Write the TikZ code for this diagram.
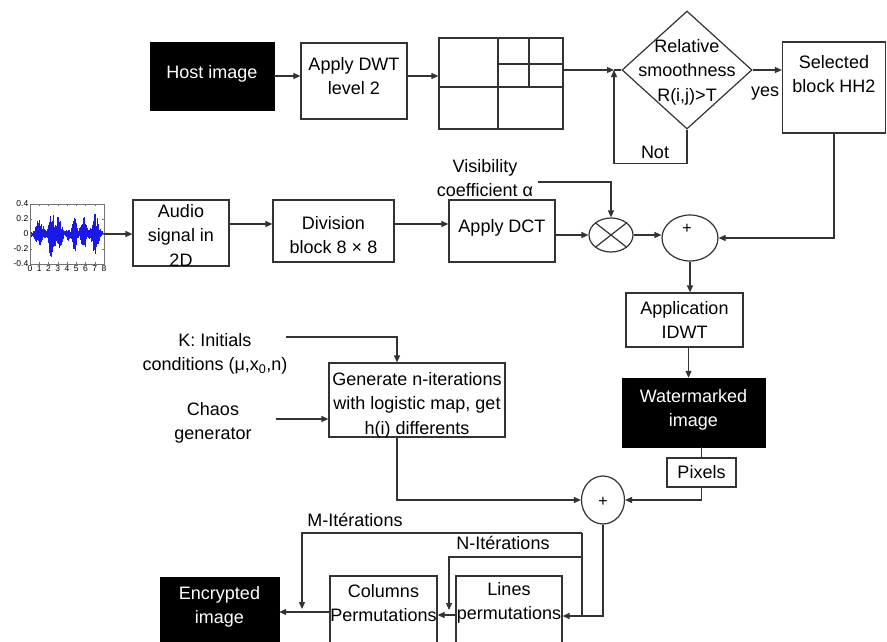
\documentclass[tikz,border=0pt]{standalone}
\usepackage{fontspec}
\setmainfont{Liberation Sans}
\usetikzlibrary{arrows.meta,shapes.geometric}
\begin{document}
\begin{tikzpicture}[x=1pt,y=-1pt,
  ln/.style={line width=1.2pt, draw=black!80},
  arr/.style={ln, -{Triangle[length=7pt,width=6pt]}},
  box/.style={draw=black!80, line width=1.2pt, fill=white, inner sep=0pt},
  bbox/.style={fill=black, draw=black, inner sep=0pt},
  txt/.style={align=center, inner sep=0pt, font=\fontsize{18}{24.5}\selectfont},
  wtxt/.style={txt, text=white},
  circ/.style={ellipse, draw=black!80, line width=1.2pt, fill=white, inner sep=0pt},
  plustxt/.style={inner sep=0pt, font=\fontsize{16}{16}\selectfont},
  wave/.style={draw={rgb,255:red,25;green,25;blue,235}, line width=0.6pt},
  ticklab/.style={inner sep=0.5pt, font=\fontsize{8.5}{9}\selectfont},
]
\useasboundingbox (0,0) rectangle (887,641);
\fill[white] (0,0) rectangle (887,641);
\clip (0,0) rectangle (887,641);

% ---------- top row ----------
\node[bbox, minimum width=124, minimum height=68] (host) at (212,76) {};
\node[wtxt] (hostT) at (212,74) {Host image};

\node[box, minimum width=106, minimum height=76] (dwt) at (354,81) {};
\node[txt] (dwtT) at (354,76) {Apply DWT\\level 2};
\draw[arr] (host.east) -- (host.east -| dwt.west);

\node[box, minimum width=124, minimum height=91] (grid) at (501,83.5) {};
\draw[ln] ([xshift=-3pt]grid.north) -- ([xshift=-3pt]grid.south);
\draw[ln] ([yshift=-3.5pt]grid.west) -- ([yshift=-3.5pt]grid.east);
\draw[ln] ([xshift=28pt]grid.north) -- ([xshift=28pt,yshift=-3.5pt]grid.center);
\draw[ln] ([xshift=-3pt,yshift=19.5pt]grid.center) -- ([yshift=19.5pt]grid.east);
\draw[arr] (host.east -| dwt.east) -- (host.east -| grid.west);

\node[diamond, draw=black!80, line width=1.2pt, minimum width=130, minimum height=118, inner sep=0pt] (dia) at (687,70) {};
\node[txt] (diaT) at (687,72) {Relative\\smoothness\\R(i,j)>T};

\coordinate (j) at (614,70);
\draw[arr] (grid.east |- j) -- (j);
\draw[ln] (j) -- (dia.west);
\draw[arr] (dia.south) -- ++(0,34) -| (j);
\node[txt] (notT) at (655,152) {Not};

\node[box, minimum width=103, minimum height=91] (sel) at (834,87.5) {};
\node[txt] (selT) at (834,74) {Selected\\block HH2};
\draw[arr] (dia.east) -- (dia.east -| sel.west);
\node[txt] (yesT) at (765,94) {yes};

% ---------- middle row ----------
\pgfmathsetseed{11}
\foreach \i in {0,...,144}{
  \pgfmathsetmacro\t{\i*0.5/9.25}
  \pgfmathsetmacro\env{0.03
    +0.17*exp(max(-9,-(\t-0.9)*(\t-0.9)/0.2))
    +0.30*exp(max(-9,-(\t-2.2)*(\t-2.2)/0.12))
    +0.20*exp(max(-9,-(\t-3.0)*(\t-3.0)/0.12))
    +0.06*exp(max(-9,-(\t-4.0)*(\t-4.0)/0.03))
    +0.21*exp(max(-9,-(\t-4.7)*(\t-4.7)/0.09))
    +0.18*exp(max(-9,-(\t-5.7)*(\t-5.7)/0.12))
    +0.24*exp(max(-9,-(\t-6.9)*(\t-6.9)/0.16))}
  \pgfmathsetmacro\up{min(29,\env*75*(0.3+0.8*rnd))}
  \pgfmathsetmacro\dn{min(29,\env*75*(0.3+0.8*rnd))}
  \draw[wave] (31+\i*0.5, 234-\up) -- (31+\i*0.5, 234+\dn);
}
\node[draw=black!55, line width=0.5pt, minimum width=74, minimum height=60, inner sep=0pt] (plot) at (67,234) {};
\foreach \k in {0,...,8}{
  \draw[black!55, line width=0.4pt] (30+\k*9.25,264) -- ++(0,-2);
  \draw[black!55, line width=0.4pt] (30+\k*9.25,204) -- ++(0,2);
  \node[ticklab, anchor=north] (xl\k) at (30+\k*9.25,265) {\k};
}
\foreach \v/\lab [count=\c] in {204/0.4,219/0.2,234/0,249/-0.2,264/-0.4}{
  \draw[black!55, line width=0.4pt] (30,\v) -- ++(2,0);
  \draw[black!55, line width=0.4pt] (104,\v) -- ++(-2,0);
  \node[ticklab, anchor=east] (yl\c) at (29,\v) {\lab};
}

\node[box, minimum width=96, minimum height=66] (audio) at (181,233) {};
\node[txt] (audioT) at (181,235) {Audio\\signal in\\2D};
\draw[arr] (plot.east) -- (plot.east -| audio.west);

\node[box, minimum width=121, minimum height=62] (div) at (333.5,231) {};
\node[txt] (divT) at (333.5,235) {Division\\block 8 × 8};
\draw[arr] ([yshift=9pt]audio.east) -- ([yshift=9pt]audio.east -| div.west);

\node[box, minimum width=106, minimum height=62] (dct) at (502,231) {};
\node[txt] (dctT) at (502,228) {Apply DCT};
\draw[arr] ([yshift=7pt]div.east) -- ([yshift=7pt]div.east -| dct.west);

\node[circ, minimum width=44, minimum height=34] (mult) at (611,235) {};
\draw[ln] (mult.north west) -- (mult.south east);
\draw[ln] (mult.north east) -- (mult.south west);
\draw[arr] (dct.east |- mult.west) -- (mult.west);

\node[txt] (visT) at (485,178) {Visibility\\coefficient α};
\coordinate (vis) at (538,182);
\draw[arr] (vis) -| (mult.north);

\node[circ, minimum width=56, minimum height=46] (plus1) at (690,238) {};
\node[plustxt] (plus1T) at (687,229) {+};
\draw[arr] (mult.east) -- (mult.east -| plus1.west);
\draw[arr] (sel.south) |- (plus1.east);

% ---------- right column ----------
\node[box, minimum width=117, minimum height=54] (idwt) at (684.5,320) {};
\node[txt] (idwtT) at (684.5,320) {Application\\IDWT};
\draw[arr] (plus1.south) -- (plus1.south |- idwt.north);

\node[bbox, minimum width=143, minimum height=69] (wm) at (693.5,412.5) {};
\node[wtxt] (wmT) at (693.5,410) {Watermarked\\image};
\draw[arr] ([xshift=4pt]idwt.south) -- ([xshift=4pt]idwt.south |- wm.north);

\node[box, minimum width=69, minimum height=29] (pix) at (701.5,472.5) {};
\node[txt] (pixT) at (701.5,472) {Pixels};
\draw[ln] (wm.south -| pix.north) -- (pix.north);

\node[circ, minimum width=43, minimum height=48] (plus2) at (603,500) {};
\node[plustxt] (plus2T) at (603,502) {+};
\draw[arr] (pix.south) |- (plus2.east);

% ---------- chaos part ----------
\node[box, minimum width=176, minimum height=74] (gen) at (417,400) {};
\node[txt] (genT) at (417,405) {Generate n-iterations\\with logistic map, get\\h(i) differents};

\node[txt] (kT) at (215,354) {K: Initials\\conditions (μ,x\textsubscript{0},n)};
\coordinate (kS) at (286,337);
\coordinate (kc) at (397,337);
\draw[arr] (kS) -- (kc) -- (kc |- gen.north);

\node[txt] (chT) at (213,423) {Chaos\\generator};
\coordinate (chS) at (276,419);
\draw[arr] (chS) -- (chS -| gen.west);

\draw[arr] (gen.south -| kc) |- (plus2.west);

% ---------- bottom row ----------
\node[bbox, minimum width=119, minimum height=90] (enc) at (219.5,622) {};
\node[wtxt] (encT) at (219.5,607) {Encrypted\\image};

\node[box, minimum width=107, minimum height=90] (col) at (383.5,621) {};
\node[txt] (colT) at (383.5,603) {Columns\\Permutations};

\node[box, minimum width=106, minimum height=90] (lin) at (509,621) {};
\node[txt] (linT) at (509,603) {Lines\\permutations};

\coordinate (jb) at (582,616);
\draw[arr] (plus2.south) |- (lin.east |- jb);
\draw[arr] ([yshift=6pt]lin.west) -- ([yshift=6pt]lin.west -| col.east);
\draw[arr] ([yshift=9pt]col.west) -- ([yshift=9pt]col.west -| enc.east);

\coordinate (mT) at (582,533);
\coordinate (nT) at (582,557);
\coordinate (mL) at (302,533);
\coordinate (nL) at (449,557);
\coordinate (mE) at (302,609);
\coordinate (nE) at (449,610);
\draw[ln] (jb) -- (mT);
\draw[arr] (mT) -- (mL) -- (mE);
\draw[arr] (nT) -- (nL) -- (nE);
\node[txt] (mTxt) at (355,520) {M-Itérations};
\node[txt] (nTxt) at (503,543) {N-Itérations};
\end{tikzpicture}
\end{document}
